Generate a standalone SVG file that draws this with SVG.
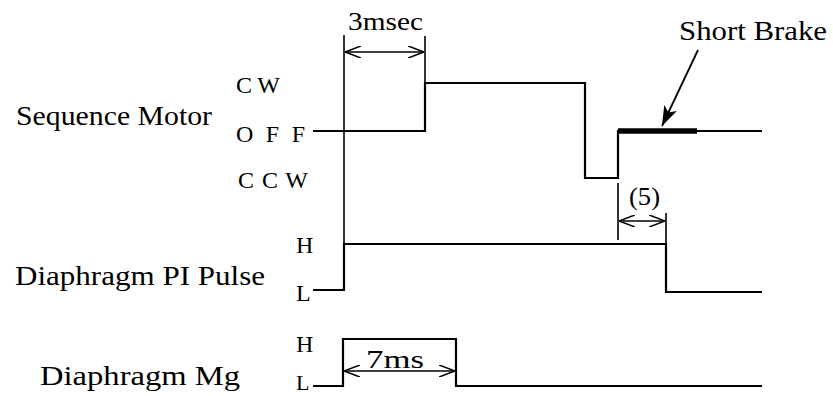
<svg xmlns="http://www.w3.org/2000/svg" width="833" height="396" viewBox="0 0 833 396">
<defs>
<style>
text{font-family:"Liberation Serif","DejaVu Serif",serif;fill:#000}
.lbl{font-size:27px}
.lvl{font-size:24px}
.dim{font-size:25px}
.wave{fill:none;stroke:#000;stroke-width:2.2;stroke-linejoin:miter}
.ext{fill:none;stroke:#000;stroke-width:1.6}
.arr{fill:none;stroke:#000;stroke-width:1.6}
</style>
<marker id="oa" viewBox="0 0 16 12" refX="16" refY="6" markerWidth="16" markerHeight="12" markerUnits="userSpaceOnUse" orient="auto-start-reverse">
<path d="M0,0 L16,6 L0,12" fill="none" stroke="#000" stroke-width="1.6"/>
</marker>
<marker id="fa" viewBox="0 0 20 14" refX="20" refY="7" markerWidth="20" markerHeight="14" markerUnits="userSpaceOnUse" orient="auto">
<path d="M0,0 L20,7 L0,14 L5,7 Z" fill="#000"/>
</marker>
</defs>
<rect width="833" height="396" fill="#fff"/>

<g id="sequence-motor">
<text class="lbl" x="16" y="125" textLength="196" lengthAdjust="spacingAndGlyphs">Sequence Motor</text>
<text class="lvl" x="236" y="93" textLength="44" lengthAdjust="spacing">C W</text>
<text class="lvl" x="236" y="142" textLength="69" lengthAdjust="spacing">O F F</text>
<text class="lvl" x="238" y="188" textLength="70" lengthAdjust="spacing">C C W</text>
<path class="wave" d="M313,131 H425 V83 H585 V178 H618 V131 H762"/>
<path d="M618,131 H697" stroke="#000" stroke-width="5.5" fill="none"/>
</g>

<g id="pi-pulse">
<text class="lbl" x="15" y="285" textLength="250" lengthAdjust="spacingAndGlyphs">Diaphragm PI Pulse</text>
<text class="lvl" x="296" y="253">H</text>
<text class="lvl" x="296" y="301">L</text>
<path class="wave" d="M313,290 H344 V244 H666 V292 H762"/>
</g>

<g id="mg">
<text class="lbl" x="40" y="385" textLength="200" lengthAdjust="spacingAndGlyphs">Diaphragm Mg</text>
<text class="lvl" x="296" y="352">H</text>
<text class="lvl" x="296" y="390" style="font-size:22px">L</text>
<path class="wave" d="M313,386 H343 V339 H456 V386 H762"/>
</g>

<g id="short-brake">
<text class="lbl" x="679" y="40" textLength="148" lengthAdjust="spacingAndGlyphs">Short Brake</text>
</g>

<g id="connectors">
<path class="ext" d="M344,35 V290"/>
<path class="ext" d="M425,36 V83"/>
<path class="arr" d="M345,52 H424" marker-start="url(#oa)" marker-end="url(#oa)"/>
<text class="dim" x="348" y="30" textLength="75" lengthAdjust="spacingAndGlyphs">3msec</text>

<path class="ext" d="M618,183 V240"/>
<path class="ext" d="M666,213 V244"/>
<path class="arr" d="M619,221 H665" marker-start="url(#oa)" marker-end="url(#oa)"/>
<text class="dim" x="629" y="205" textLength="31" lengthAdjust="spacingAndGlyphs">(5)</text>

<path class="arr" d="M344,371 H455" marker-start="url(#oa)" marker-end="url(#oa)"/>
<text class="dim" x="366" y="368" textLength="58" lengthAdjust="spacingAndGlyphs">7ms</text>

<path d="M698,50 L662,126" stroke="#000" stroke-width="1.8" fill="none" marker-end="url(#fa)"/>
</g>
</svg>
